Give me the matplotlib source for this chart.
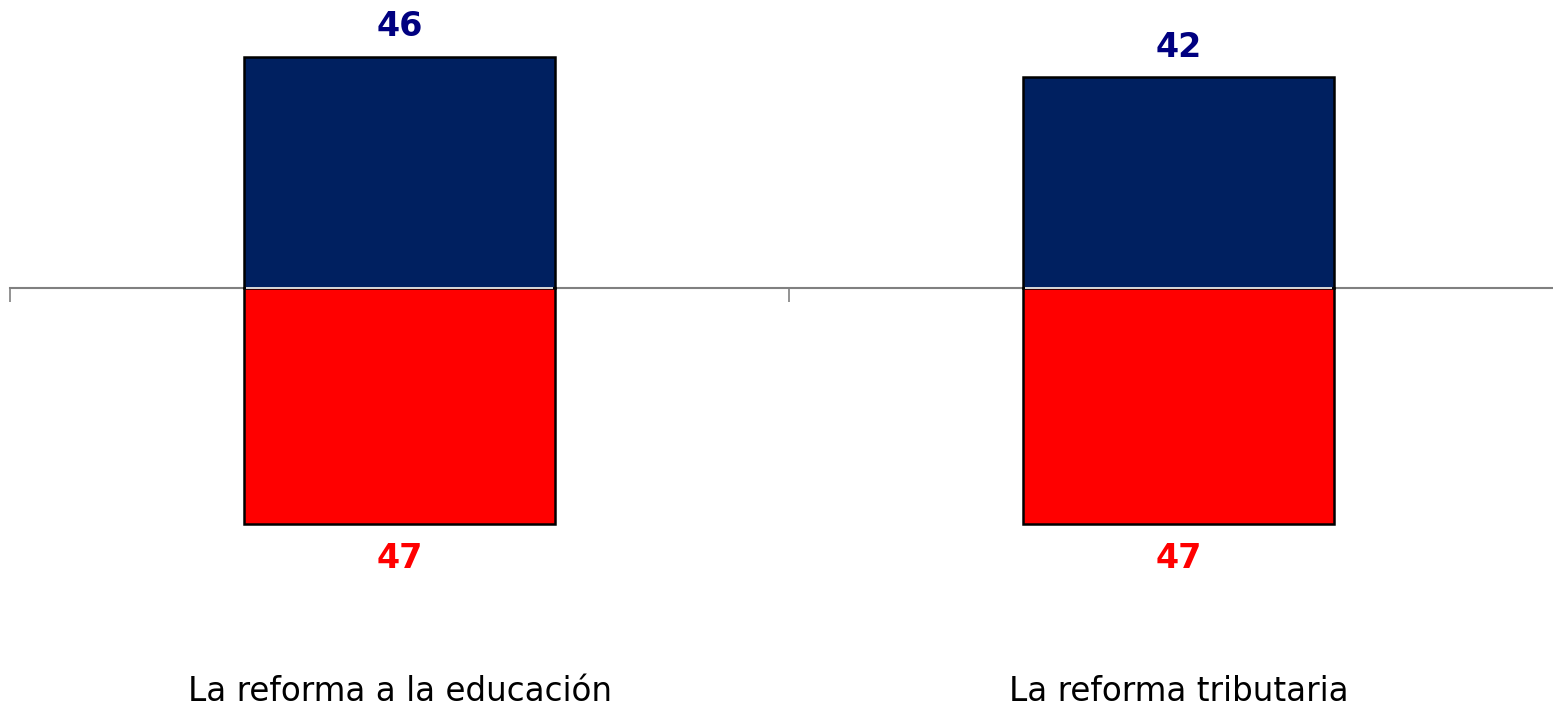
import matplotlib.pyplot as plt

categories = ['La reforma a la educación', 'La reforma tributaria']
apoya = [46, 42]
rechaza = [47, 47]

fig = plt.figure(figsize=(15.53, 7.05), dpi=100)
# axes runs past the right edge, like the original slide crop
ax = fig.add_axes([10 / 1553, 0, 1558 / 1553, 1])

x = list(range(len(categories)))
ax.bar(x, apoya, width=0.4, color='#002060', edgecolor='black', linewidth=1.8, zorder=4)
ax.bar(x, [-v for v in rechaza], width=0.4, color='#FF0000', edgecolor='black', linewidth=1.8, zorder=4)
# thin white seam between the two halves of each bar
ax.hlines([0] * len(x), [i - 0.197 for i in x], [i + 0.197 for i in x],
          colors='white', linewidth=1.2, zorder=5)

ax.set_xlim(-0.5, 1.5)
ax.set_ylim(-417 / 5.02, 288 / 5.02)

for spine in ['top', 'right', 'left']:
    ax.spines[spine].set_visible(False)
ax.spines['bottom'].set_position(('data', 0))
ax.spines['bottom'].set_color('#808080')
ax.spines['bottom'].set_linewidth(1.5)
ax.spines['bottom'].set_zorder(2)
ax.set_yticks([])
ax.set_xticks([-0.5, 0.5, 1.5])
ax.set_xticklabels([])
ax.tick_params(axis='x', direction='out', length=10, width=1.2, color='#808080')

for i in x:
    ax.text(i, apoya[i] + 6.0, str(apoya[i]), ha='center', va='center',
            fontsize=24, fontweight='bold', color='#000080')
    ax.text(i, -rechaza[i] - 6.8, str(rechaza[i]), ha='center', va='center',
            fontsize=24, fontweight='bold', color='#FF0000')
    ax.text(i, -80.4, categories[i], ha='center', va='center', fontsize=23.5, color='black')

fig.savefig('out.png', dpi=100)
